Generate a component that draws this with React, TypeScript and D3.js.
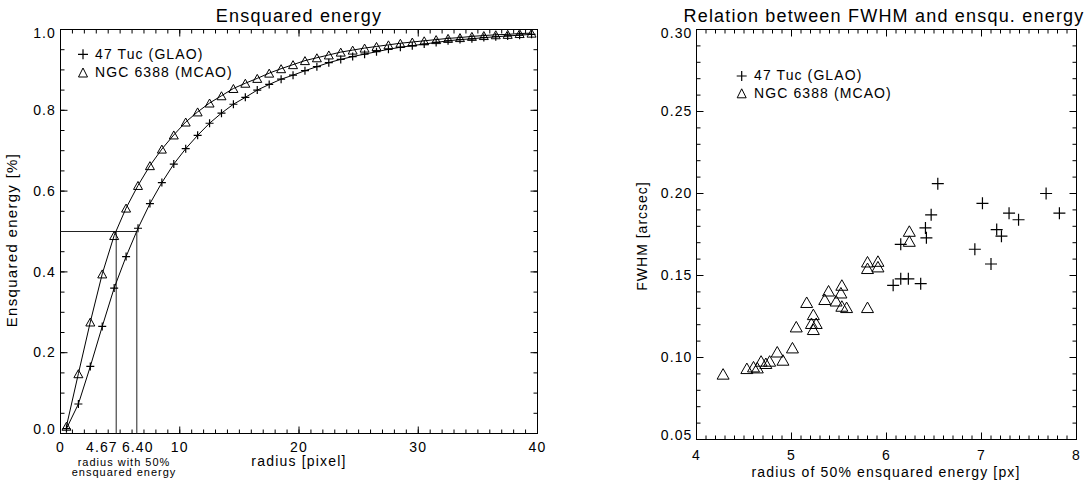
import React from "react";
import * as d3 from "d3";

// ---------- Data ----------
const radii = [0.5, 1.5, 2.5, 3.5, 4.5, 5.5, 6.5, 7.5, 8.5, 9.5, 10.5, 11.5, 12.5, 13.5, 14.5, 15.5, 16.5, 17.5, 18.5, 19.5,
  20.5, 21.5, 22.5, 23.5, 24.5, 25.5, 26.5, 27.5, 28.5, 29.5, 30.5, 31.5, 32.5, 33.5, 34.5, 35.5, 36.5, 37.5, 38.5, 39.5];
const glaoEE = [0.012, 0.073, 0.166, 0.265, 0.36, 0.438, 0.508, 0.569, 0.621, 0.667, 0.705, 0.738, 0.768, 0.793, 0.815, 0.832,
  0.85, 0.864, 0.877, 0.887, 0.898, 0.908, 0.918, 0.926, 0.933, 0.939, 0.945, 0.951, 0.956, 0.96, 0.964, 0.968, 0.972, 0.975,
  0.977, 0.98, 0.982, 0.984, 0.986, 0.988];
const mcaoEE = [0.018, 0.148, 0.276, 0.395, 0.49, 0.558, 0.614, 0.663, 0.704, 0.739, 0.771, 0.796, 0.818, 0.836, 0.854, 0.867,
  0.879, 0.892, 0.903, 0.913, 0.923, 0.93, 0.937, 0.944, 0.949, 0.954, 0.958, 0.962, 0.966, 0.969, 0.972, 0.975, 0.978, 0.98,
  0.983, 0.985, 0.987, 0.988, 0.99, 0.991];
const halfRadii = [4.67, 6.4];
const halfLabels = ["4.67", "6.40"];
const halfLevel = 0.5;

const glaoR50 = [6.54, 6.47, 6.41, 6.42, 6.15, 6.07, 6.15, 6.23, 6.36, 7.01, 7.29, 7.39, 7.16, 7.21, 6.93, 7.1, 7.68, 7.82];
const glaoFWHM = [0.206, 0.187, 0.179, 0.173, 0.169, 0.144, 0.148, 0.148, 0.145, 0.194, 0.188, 0.184, 0.178, 0.174, 0.166, 0.157, 0.2, 0.188];
const mcaoR50 = [4.28, 4.53, 4.6, 4.64, 4.68, 4.73, 4.77, 4.85, 4.91, 5.01, 5.05, 5.16, 5.23, 5.21, 5.26, 5.23, 5.35, 5.39, 5.47,
  5.53, 5.52, 5.53, 5.58, 5.8, 5.8, 5.8, 5.91, 5.91, 6.24, 6.24];
const mcaoFWHM = [0.09, 0.0934, 0.0944, 0.0938, 0.0979, 0.0965, 0.0979, 0.1035, 0.0985, 0.106, 0.1188, 0.1337, 0.1263, 0.1209,
  0.1209, 0.1172, 0.1355, 0.1407, 0.1346, 0.1442, 0.1395, 0.1314, 0.1306, 0.1306, 0.1544, 0.1584, 0.1554, 0.1588, 0.171, 0.1771];

const leftXTicks = [0, 10, 20, 30, 40];
const leftXLabels = ["0", "10", "20", "30", "40"];
const leftYTicks = [0, 0.2, 0.4, 0.6, 0.8, 1.0];
const leftYLabels = ["0.0", "0.2", "0.4", "0.6", "0.8", "1.0"];
const rightXTicks = [4, 5, 6, 7, 8];
const rightXLabels = ["4", "5", "6", "7", "8"];
const rightYTicks = [0.05, 0.1, 0.15, 0.2, 0.25, 0.3];
const rightYLabels = ["0.05", "0.10", "0.15", "0.20", "0.25", "0.30"];

const legendNames = ["47 Tuc (GLAO)", "NGC 6388 (MCAO)"];

// ---------- Helpers ----------
const FONT = "'Liberation Sans', Arial, Helvetica, sans-serif";

function T(props: any) {
  const { size = 14, ls = 1.1, children, ...rest } = props;
  return (
    <text fontFamily={FONT} fontSize={size} letterSpacing={ls} fill="#000" {...rest}>
      {children}
    </text>
  );
}

function Plus({ x, y, s }: { x: number; y: number; s: number }) {
  const h = s / 2;
  return (
    <path d={`M${x - h},${y}H${x + h}M${x},${y - h}V${y + h}`} stroke="#000" strokeWidth={1.2} fill="none" />
  );
}

function Tri({ x, y, w, h }: { x: number; y: number; w: number; h: number }) {
  return (
    <path
      d={`M${x},${y - h / 2}L${x + w / 2},${y + h / 2}L${x - w / 2},${y + h / 2}Z`}
      stroke="#000"
      strokeWidth={1}
      fill="none"
    />
  );
}

function Frame({ xs, ys, xMajor, yMajor, xMinor, yMinor }: any) {
  const [x0, x1] = xs.range();
  const [y0, y1] = ys.range(); // y0 bottom, y1 top
  const M = 7, m = 4;
  const parts: string[] = [];
  xMinor.forEach((v: number) => {
    const px = xs(v);
    parts.push(`M${px},${y0}V${y0 - m}M${px},${y1}V${y1 + m}`);
  });
  xMajor.forEach((v: number) => {
    const px = xs(v);
    parts.push(`M${px},${y0}V${y0 - M}M${px},${y1}V${y1 + M}`);
  });
  yMinor.forEach((v: number) => {
    const py = ys(v);
    parts.push(`M${x0},${py}H${x0 + m}M${x1},${py}H${x1 - m}`);
  });
  yMajor.forEach((v: number) => {
    const py = ys(v);
    parts.push(`M${x0},${py}H${x0 + M}M${x1},${py}H${x1 - M}`);
  });
  return (
    <g>
      <path d={parts.join("")} stroke="#000" strokeWidth={1} fill="none" />
      <rect x={x0} y={y1} width={x1 - x0} height={y0 - y1} stroke="#000" strokeWidth={1} fill="none" />
    </g>
  );
}

function yLabelOffset(i: number, n: number) {
  if (i === 0) return 0.5;
  if (i === n - 1) return 8.5;
  return 4.75;
}

export default function App() {
  const xL = d3.scaleLinear().domain([0, 40]).range([60.5, 537.5]);
  const yL = d3.scaleLinear().domain([0, 1]).range([433.5, 29.5]);
  const xR = d3.scaleLinear().domain([4, 8]).range([696.5, 1076.5]);
  const yR = d3.scaleLinear().domain([0.05, 0.3]).range([439.5, 29.5]);

  const line = d3
    .line<number>()
    .x((_, i) => xL(radii[i]))
    .y((d) => yL(d));

  return (
    <svg
      width={1089}
      height={485}
      style={{ position: "absolute", left: 0, top: 0, background: "#fff" }}
    >
      <rect width={1089} height={485} fill="#fff" />

      {/* ---------------- Left plot ---------------- */}
      <T x={299} y={21.5} size={18} ls={1.2} textAnchor="middle">Ensquared energy</T>
      <Frame
        xs={xL}
        ys={yL}
        xMajor={leftXTicks}
        yMajor={leftYTicks}
        xMinor={xL.ticks(40)}
        yMinor={yL.ticks(20)}
      />
      {leftXTicks.map((v, i) => (
        <T key={"lx" + i} x={xL(v)} y={451.5} textAnchor="middle">{leftXLabels[i]}</T>
      ))}
      {leftYTicks.map((v, i) => (
        <T key={"ly" + i} x={56} y={yL(v) + yLabelOffset(i, leftYTicks.length)} textAnchor="end">
          {leftYLabels[i]}
        </T>
      ))}
      <T x={xL(halfRadii[0]) + 1.5} y={451.5} textAnchor="end">{halfLabels[0]}</T>
      <T x={xL(halfRadii[1]) + 1} y={451.5} textAnchor="middle">{halfLabels[1]}</T>
      <T x={124} y={465.5} size={11} ls={1} textAnchor="middle">radius with 50%</T>
      <T x={124} y={475.5} size={11} ls={1} textAnchor="middle">ensquared energy</T>
      <T x={299} y={466} size={14} ls={1.2} textAnchor="middle">radius [pixel]</T>
      <T transform="translate(17,240) rotate(-90)" size={15} ls={1.3} textAnchor="middle">
        Ensquared energy [%]
      </T>

      {/* 50% guide lines */}
      <path
        d={`M${xL(0)},${yL(halfLevel)}H${xL(halfRadii[1])}` +
          halfRadii.map((r) => `M${xL(r)},${yL(0)}V${yL(halfLevel)}`).join("")}
        stroke="#222"
        strokeWidth={1}
        fill="none"
      />

      <path d={line(glaoEE) || ""} stroke="#000" strokeWidth={1} fill="none" />
      <path d={line(mcaoEE) || ""} stroke="#000" strokeWidth={1} fill="none" />
      {glaoEE.map((v, i) => (
        <Plus key={"gp" + i} x={xL(radii[i])} y={yL(v)} s={8} />
      ))}
      {mcaoEE.map((v, i) => (
        <Tri key={"mt" + i} x={xL(radii[i])} y={yL(v)} w={9} h={8} />
      ))}

      {/* legend left */}
      <Plus x={83} y={54.3} s={10} />
      <T x={95} y={58.5} size={14} ls={1.1}>{legendNames[0]}</T>
      <Tri x={83} y={72.5} w={9} h={9} />
      <T x={95} y={76.5} size={14} ls={1.1}>{legendNames[1]}</T>

      {/* ---------------- Right plot ---------------- */}
      <T x={884} y={21.5} size={18} ls={1.2} textAnchor="middle">Relation between FWHM and ensqu. energy</T>
      <Frame
        xs={xR}
        ys={yR}
        xMajor={rightXTicks}
        yMajor={rightYTicks}
        xMinor={xR.ticks(40)}
        yMinor={yR.ticks(25)}
      />
      {rightXTicks.map((v, i) => (
        <T key={"rx" + i} x={xR(v)} y={460} textAnchor="middle">{rightXLabels[i]}</T>
      ))}
      {rightYTicks.map((v, i) => (
        <T key={"ry" + i} x={692.5} y={yR(v) + yLabelOffset(i, rightYTicks.length)} textAnchor="end">
          {rightYLabels[i]}
        </T>
      ))}
      <T x={886} y={476.5} size={14} ls={1.15} textAnchor="middle">radius of 50% ensquared energy [px]</T>
      <T transform="translate(647,236) rotate(-90)" size={14} ls={1} textAnchor="middle">
        FWHM [arcsec]
      </T>

      {glaoR50.map((v, i) => (
        <Plus key={"rp" + i} x={xR(v)} y={yR(glaoFWHM[i])} s={12} />
      ))}
      {mcaoR50.map((v, i) => (
        <Tri key={"rt" + i} x={xR(v)} y={yR(mcaoFWHM[i])} w={12} h={10.5} />
      ))}

      {/* legend right */}
      <Plus x={741.7} y={76} s={10} />
      <T x={754} y={80} size={14} ls={1.1}>{legendNames[0]}</T>
      <Tri x={741.7} y={93.3} w={9} h={9} />
      <T x={754} y={97.5} size={14} ls={1.1}>{legendNames[1]}</T>
    </svg>
  );
}
